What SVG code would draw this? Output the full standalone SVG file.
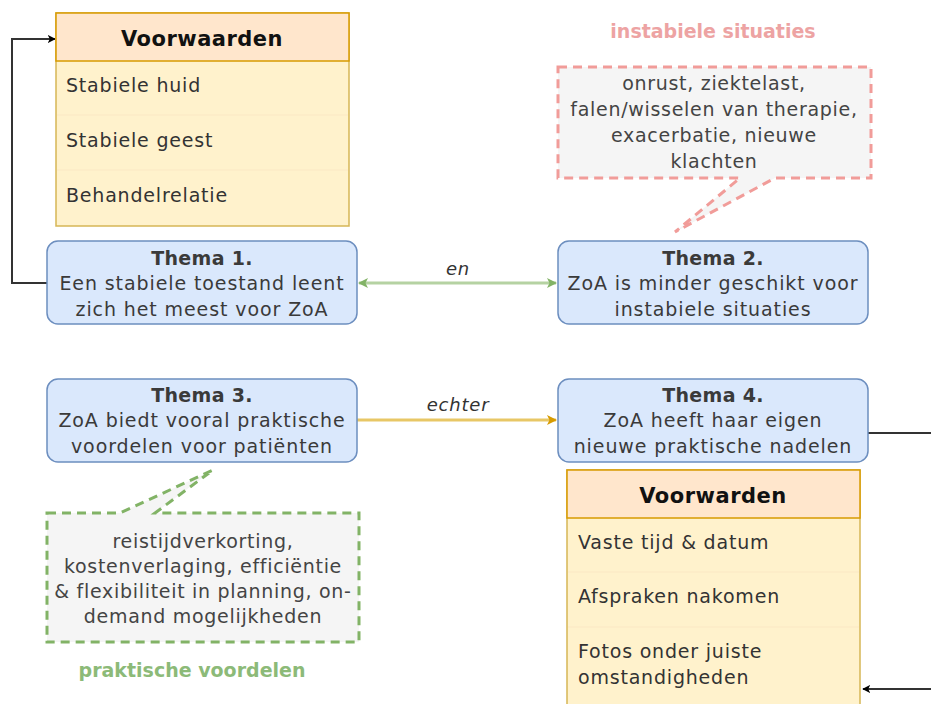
<svg xmlns="http://www.w3.org/2000/svg" width="931" height="704" viewBox="0 0 931 704">
<style>
.t{font-family:"DejaVu Sans",sans-serif;}
.thema{fill:#dae8fc;stroke:#6c8ebf;stroke-width:1.5;}
.tt{font-size:19px;text-anchor:middle;fill:#3a3a3a;letter-spacing:0.9px;}
.tb{font-weight:bold;}
.th{font-size:19px;font-weight:bold;letter-spacing:0.3px;}
.head{fill:#ffe6cc;stroke:#d79b00;stroke-width:1.5;}
.body{fill:#fff2cc;stroke:#d6b656;stroke-width:1.5;}
.sep{stroke:#fbe8c4;stroke-width:1;}
.it{font-size:19px;fill:#333;letter-spacing:0.8px;}
.hd{font-size:21px;font-weight:bold;text-anchor:middle;fill:#111;letter-spacing:0.5px;}
.call{fill:#f5f5f5;stroke-width:3;stroke-dasharray:9 6;}
.ct{font-size:19px;text-anchor:middle;fill:#444;letter-spacing:0.7px;}
.lbl{font-size:18px;font-style:italic;text-anchor:middle;fill:#333;letter-spacing:0.8px;}
.pink{font-size:19px;font-weight:bold;text-anchor:middle;fill:#eda3a3;}
.green{font-size:19px;font-weight:bold;text-anchor:middle;fill:#8cba78;}
</style>
<defs>
<marker id="ab" viewBox="0 0 10 10" refX="9" refY="5" markerWidth="8" markerHeight="8" markerUnits="userSpaceOnUse" orient="auto"><path d="M0,0 L10,5 L0,10 L2.5,5 Z" fill="#000"/></marker>
<marker id="ag" viewBox="0 0 10 10" refX="9" refY="5" markerWidth="10" markerHeight="10" markerUnits="userSpaceOnUse" orient="auto-start-reverse"><path d="M0,0 L10,5 L0,10 L2.5,5 Z" fill="#82b366"/></marker>
<marker id="ay" viewBox="0 0 10 10" refX="9" refY="5" markerWidth="10" markerHeight="10" markerUnits="userSpaceOnUse" orient="auto"><path d="M0,0 L10,5 L0,10 L2.5,5 Z" fill="#d79b00"/></marker>
</defs>
<rect width="931" height="704" fill="#fff"/>

<g id="connectors" fill="none">
<path d="M47,283 H12 V39 H55" stroke="#333" stroke-width="2" marker-end="url(#ab)"/>
<path d="M359,283 H556" stroke="#b5d2a2" stroke-width="3" marker-start="url(#ag)" marker-end="url(#ag)"/>
<path d="M357,420 H556" stroke="#e8c766" stroke-width="3" marker-end="url(#ay)"/>
<path d="M868,433 H931" stroke="#333" stroke-width="2"/>
<path d="M931,689 H863" stroke="#333" stroke-width="2" marker-end="url(#ab)"/>
<text class="t lbl" x="458" y="275">en</text>
<text class="t lbl" x="458" y="411">echter</text>
</g>

<g id="voorwaarden1">
<rect x="56" y="13" width="293" height="213" class="body"/>
<rect x="56" y="13" width="293" height="48" class="head"/>
<line x1="57" y1="115" x2="348" y2="115" class="sep"/>
<line x1="57" y1="170" x2="348" y2="170" class="sep"/>
<text class="t hd" x="202" y="46">Voorwaarden</text>
<text class="t it" x="66" y="92">Stabiele huid</text>
<text class="t it" x="66" y="147">Stabiele geest</text>
<text class="t it" x="66" y="202">Behandelrelatie</text>
</g>

<g id="thema1">
<rect x="47" y="241" width="310" height="83" rx="11" class="thema"/>
<text class="t tt" x="202" y="265"><tspan class="th">Thema 1.</tspan><tspan x="202" dy="25">Een stabiele toestand leent</tspan><tspan x="202" dy="26">zich het meest voor ZoA</tspan></text>
</g>

<g id="thema2">
<rect x="558" y="241" width="310" height="83" rx="11" class="thema"/>
<text class="t tt" x="713" y="265"><tspan class="th">Thema 2.</tspan><tspan x="713" dy="25">ZoA is minder geschikt voor</tspan><tspan x="713" dy="26">instabiele situaties</tspan></text>
</g>

<g id="thema3">
<rect x="47" y="379" width="310" height="83" rx="11" class="thema"/>
<text class="t tt" x="202" y="402"><tspan class="th">Thema 3.</tspan><tspan x="202" dy="25">ZoA biedt vooral praktische</tspan><tspan x="202" dy="26">voordelen voor patiënten</tspan></text>
</g>

<g id="thema4">
<rect x="558" y="379" width="310" height="83" rx="11" class="thema"/>
<text class="t tt" x="713" y="402"><tspan class="th">Thema 4.</tspan><tspan x="713" dy="25">ZoA heeft haar eigen</tspan><tspan x="713" dy="26">nieuwe praktische nadelen</tspan></text>
</g>

<g id="voorwaarden2">
<rect x="567" y="470" width="293" height="240" class="body"/>
<rect x="567" y="470" width="293" height="48" class="head"/>
<line x1="568" y1="572" x2="859" y2="572" class="sep"/>
<line x1="568" y1="627" x2="859" y2="627" class="sep"/>
<text class="t hd" x="713" y="503">Voorwarden</text>
<text class="t it" x="578" y="549">Vaste tijd &amp; datum</text>
<text class="t it" x="578" y="603">Afspraken nakomen</text>
<text class="t it" x="578" y="658">Fotos onder juiste</text>
<text class="t it" x="578" y="684">omstandigheden</text>
</g>

<g id="callout-instabiel">
<path d="M558,67 H871 V178 H775 L675,232 L740,178 H558 Z" class="call" stroke="#f19c99"/>
<text class="t ct" x="714" y="90"><tspan>onrust, ziektelast,</tspan><tspan x="714" dy="26">falen/wisselen van therapie,</tspan><tspan x="714" dy="26">exacerbatie, nieuwe</tspan><tspan x="714" dy="26">klachten</tspan></text>
<text class="t pink" x="713" y="38">instabiele situaties</text>
</g>

<g id="callout-praktisch">
<path d="M47,513 H120 L213,470 L155,513 H359 V642 H47 Z" class="call" stroke="#82b366"/>
<text class="t ct" x="203" y="548"><tspan>reistijdverkorting,</tspan><tspan x="203" dy="25">kostenverlaging, efficiëntie</tspan><tspan x="203" dy="25">&amp; flexibiliteit in planning, on-</tspan><tspan x="203" dy="25">demand mogelijkheden</tspan></text>
<text class="t green" x="192" y="677">praktische voordelen</text>
</g>
</svg>
